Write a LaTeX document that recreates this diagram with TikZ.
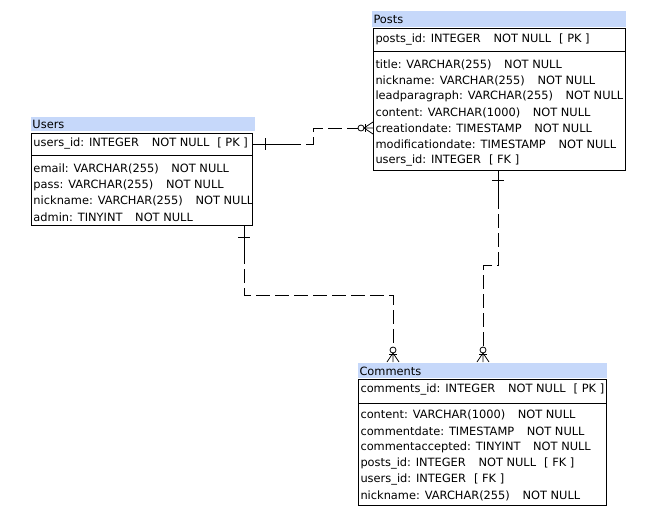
\documentclass[tikz,border=0pt]{standalone}
\usepackage{fontspec}
\setmainfont{DejaVu Sans}
\definecolor{headblue}{RGB}{198,216,250}
\newcommand{\gap}{\hspace{9.5pt}}
\newcommand{\sgap}{\hspace{6pt}}
\tikzset{
    field/.style={anchor=west,inner sep=0pt,font=\fontsize{8.55}{9}\selectfont},
    rel/.style={dash pattern=on 10.5pt off 3.75pt},
    foot/.style={line width=.6pt}
}
\begin{document}
\begin{tikzpicture}[x=.75pt,y=-.75pt,line width=.75pt]
        \useasboundingbox (0,0) rectangle (658,522);
        % Posts
        \fill [headblue] (372,11) rectangle (626,27);
        \node [field] (posts) at (373,19) {Posts};
        \draw (373,28) rectangle (625,170);
        \draw (373,51) -- (625,51);
        \node [field] (posts pk) at (375,40) {posts\_id: INTEGER\gap NOT NULL\sgap [ PK ]};
        \foreach \t [count=\i] in {title: VARCHAR(255)\gap NOT NULL,
            nickname: VARCHAR(255)\gap NOT NULL,
            leadparagraph: VARCHAR(255)\gap NOT NULL,
            content: VARCHAR(1000)\gap NOT NULL,
            creationdate: TIMESTAMP\gap NOT NULL,
            modificationdate: TIMESTAMP\gap NOT NULL,
            users\_id: INTEGER\sgap [ FK ]}{
            \node [field] (p\i) at (375,49.2+\i*15.85) {\t};
        }
        % Users
        \fill [headblue] (31,117) rectangle (255,131);
        \node [field] (users) at (32,124) {Users};
        \draw (31,133) rectangle (252,225);
        \draw (31,155) -- (252,155);
        \node [field] (users pk) at (33,144) {users\_id: INTEGER\gap NOT NULL\sgap [ PK ]};
        \foreach \t [count=\i] in {email: VARCHAR(255)\gap NOT NULL,
            pass: VARCHAR(255)\gap NOT NULL,
            nickname: VARCHAR(255)\gap NOT NULL,
            admin: TINYINT\gap NOT NULL}{
            \node [field] (u\i) at (33,153+\i*16) {\t};
        }
        % Comments
        \fill [headblue] (358,363) rectangle (607,378);
        \node [field] (comments) at (359,371) {Comments};
        \draw (358,379) rectangle (606,505);
        \draw (358,403) -- (606,403);
        \node [field] (comments pk) at (360,390) {comments\_id: INTEGER\gap NOT NULL\sgap [ PK ]};
        \foreach \t [count=\i] in {content: VARCHAR(1000)\gap NOT NULL,
            commentdate: TIMESTAMP\gap NOT NULL,
            commentaccepted: TINYINT\gap NOT NULL,
            posts\_id: INTEGER\gap NOT NULL\sgap [ FK ],
            users\_id: INTEGER\sgap [ FK ],
            nickname: VARCHAR(255)\gap NOT NULL}{
            \node [field] (c\i) at (360,399+\i*16.2) {\t};
        }
        % users -> posts
        \coordinate (up1) at (252,144);
        \coordinate (up2) at (287,144);
        \coordinate (up3) at (313,144);
        \coordinate (up4) at (313,128);
        \coordinate (up5) at (358,128);
        \draw (up1) -- (up2);
        \draw (265,138) -- (265,150);
        \draw [rel] (up2) -- (up3) -- (up4) -- (up5);
        \draw [foot] (361,128) circle (3);
        \draw [foot] (365,124) -- (365,132);
        \draw [foot] (373,122) -- (364,128) -- (373,134) (364,128) -- (373,128);
        % users -> comments
        \coordinate (uc1) at (244,225);
        \coordinate (uc2) at (244,250);
        \coordinate (uc3) at (244,295);
        \coordinate (uc4) at (393,295);
        \coordinate (uc5) at (393,347);
        \draw (uc1) -- (uc2);
        \draw (238,237) -- (250,237);
        \draw [rel] (uc2) -- (uc3) -- (uc4) -- (uc5);
        \draw [foot] (393,350) circle (3);
        \draw [foot] (389,354) -- (397,354);
        \draw [foot] (387,362) -- (393,353) -- (399,362) (393,353) -- (393,362);
        % posts -> comments
        \coordinate (pc1) at (498,170);
        \coordinate (pc2) at (498,195);
        \coordinate (pc3) at (498,265);
        \coordinate (pc4) at (483,265);
        \coordinate (pc5) at (483,347);
        \draw (pc1) -- (pc2);
        \draw (492,180) -- (504,180);
        \draw [rel] (pc2) -- (pc3) -- (pc4) -- (pc5);
        \draw [foot] (483,350) circle (3);
        \draw [foot] (479,354) -- (487,354);
        \draw [foot] (477,362) -- (483,353) -- (489,362) (483,353) -- (483,362);
\end{tikzpicture}
\end{document}
